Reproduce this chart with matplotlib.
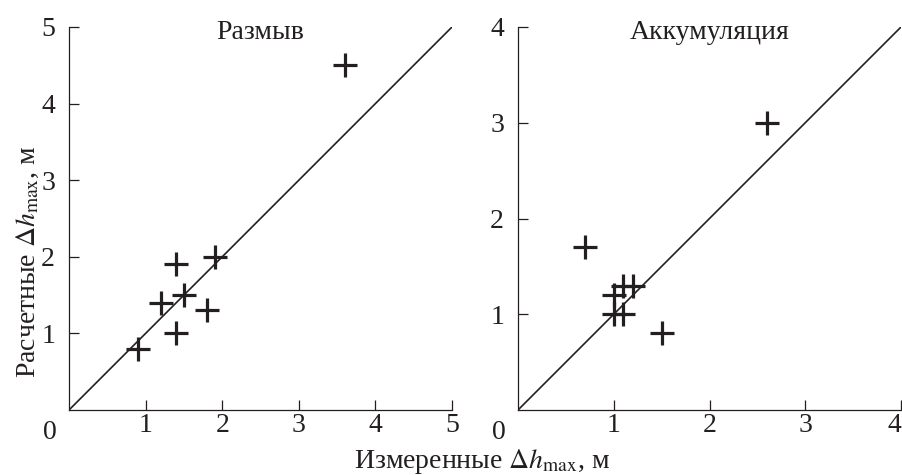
import matplotlib
matplotlib.use("Agg")
import matplotlib.pyplot as plt

plt.rcParams['font.family'] = ['Liberation Serif', 'DejaVu Serif']
plt.rcParams['mathtext.fontset'] = 'stix'

# Data
left_title = "Размыв"
left_x = [0.9, 1.4, 1.2, 1.5, 1.4, 1.8, 1.9, 3.6]
left_y = [0.8, 1.0, 1.4, 1.5, 1.9, 1.3, 2.0, 4.5]
left_ticks = [1, 2, 3, 4, 5]
left_max = 5

right_title = "Аккумуляция"
right_x = [0.7, 1.0, 1.1, 1.2, 1.0, 1.1, 1.5, 2.6]
right_y = [1.7, 1.2, 1.3, 1.3, 1.0, 1.0, 0.8, 3.0]
right_ticks = [1, 2, 3, 4]
right_max = 4

xlabel = r"Измеренные $\Delta\mathit{h}_{\mathrm{max}}$, м"
ylabel = r"Расчетные $\Delta\mathit{h}_{\mathrm{max}}$, м"

FS = 20
INK = '#231f20'

fig = plt.figure(figsize=(9.03, 4.75), dpi=100)
W, H = 903, 475

def make_ax(left_px, title, xs, ys, ticks, vmax):
    ax = fig.add_axes([left_px / W, 65 / H, 383 / W, 383 / H])
    ax.set_xlim(0, vmax)
    ax.set_ylim(0, vmax)
    ax.plot([0, vmax], [0, vmax], color=INK, lw=1.2)
    ax.plot(xs, ys, linestyle='none', marker='+', markersize=17,
            markeredgewidth=2.3, color=INK, clip_on=False)
    for s in ['top', 'right']:
        ax.spines[s].set_visible(False)
    for s in ['left', 'bottom']:
        ax.spines[s].set_linewidth(0.9)
        ax.spines[s].set_color(INK)
    ax.set_xticks(ticks)
    ax.set_yticks(ticks)
    ax.set_xticklabels([str(t) for t in ticks])
    ax.set_yticklabels([str(t) for t in ticks])
    ax.tick_params(axis='both', direction='in', length=7, width=0.9,
                   colors=INK, labelsize=FS)
    ax.tick_params(axis='x', pad=2)
    ax.tick_params(axis='y', pad=10)
    ax.text(-0.05, -0.058, "0", transform=ax.transAxes, ha='center',
            va='center', fontsize=FS, color=INK)
    ax.text(0.5, 0.985, title, transform=ax.transAxes, ha='center',
            va='center', fontsize=FS, color=INK)
    return ax

make_ax(69, left_title, left_x, left_y, left_ticks, left_max)
ax2 = make_ax(518, right_title, right_x, right_y, right_ticks, right_max)
ax2.get_xticklabels()[-1].set_horizontalalignment('right')

fig.text(482 / W, 1 - 461 / H, xlabel, ha='center', va='center',
         fontsize=FS, color=INK)
fig.text(28 / W, 1 - 262 / H, ylabel, ha='center', va='center',
         rotation=90, fontsize=FS, color=INK)

fig.savefig('out.png', dpi=100)
